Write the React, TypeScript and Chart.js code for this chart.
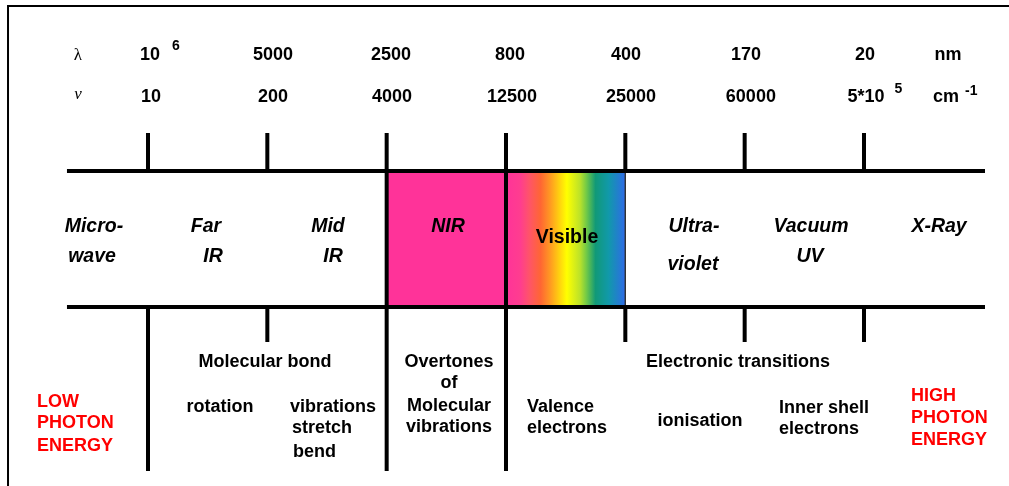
import React, { useEffect, useRef } from "react";
import { Chart, registerables } from "chart.js";

Chart.register(...registerables);

// ---------------- data ----------------
// tick boundaries along the spectrum (index units)
const BOUNDARIES = [0, 1, 2, 3, 4, 5, 6];
const WAVELENGTH_LABELS = ["10", "5000", "2500", "800", "400", "170", "20"];
const WAVELENGTH_EXP = ["6", "", "", "", "", "", ""];
const WAVENUMBER_LABELS = ["10", "200", "4000", "12500", "25000", "60000", "5*10"];
const WAVENUMBER_EXP = ["", "", "", "", "", "", "5"];
const UNIT_WAVELENGTH = "nm";
const UNIT_WAVENUMBER = "cm";
const UNIT_WAVENUMBER_EXP = "-1";
const REGION_NAMES = [
  ["Micro-", "wave"],
  ["Far", "IR"],
  ["Mid", "IR"],
  ["NIR"],
  ["Visible"],
  ["Ultra-", "violet"],
  ["Vacuum", "UV"],
  ["X-Ray"],
];
const NIR_RANGE = [2, 3];
const VISIBLE_RANGE = [3, 4];
const THROUGH_BAND = [2, 3]; // dividers crossing the band
const LONG_LOWER = [0, 2, 3]; // dividers reaching the bottom
const PROCESS_TEXT = [
  "Molecular bond",
  "rotation",
  "vibrations",
  "stretch",
  "bend",
  "Overtones",
  "of",
  "Molecular",
  "vibrations",
  "Electronic transitions",
  "Valence",
  "electrons",
  "ionisation",
  "Inner shell",
  "electrons",
];
const LOW_ENERGY = ["LOW", "PHOTON", "ENERGY"];
const HIGH_ENERGY = ["HIGH", "PHOTON", "ENERGY"];

// ---------------- layout ----------------
const W = 1009;
const H = 486;
const X_MIN = -1.2402;
const X_MAX = 7.2151;
const FRAME_X = -1.173;
const FRAME_Y = 6;
const AXIS_START = -0.679;
const AXIS_END = 7.014;
const TICK_TOP = 133;
const BAND_TOP = 171;
const BAND_BOTTOM = 307;
const SHORT_BOTTOM = 342;
const LONG_BOTTOM = 471;

const ROW1_X = [0.017, 1.047, 2.036, 3.034, 4.006, 5.011, 6.009];
const ROW2_X = [0.025, 1.047, 2.045, 3.05, 4.047, 5.052, 6.017];
const ROW1_Y = 60;
const ROW2_Y = 102;
const ROW1_EXP_Y = 50;
const ROW2_EXP_Y = 93;
const SYMBOL_X = -0.587;
const UNIT_X = [6.704, 6.687];

const REGION_X = [
  [-0.453, -0.469],
  [0.486, 0.545],
  [1.508, 1.55],
  [2.514],
  [3.511],
  [4.575, 4.567],
  [5.556, 5.547],
  [6.629],
];
const REGION_Y = [
  [232, 262],
  [232, 262],
  [232, 262],
  [232],
  [243],
  [232, 270],
  [232, 262],
  [232],
];

const PROCESS_LAYOUT = [
  { x: 0.98, y: 367, align: "center" },
  { x: 0.603, y: 412, align: "center" },
  { x: 1.19, y: 412, align: "left" },
  { x: 1.207, y: 433, align: "left" },
  { x: 1.215, y: 457, align: "left" },
  { x: 2.522, y: 367, align: "center" },
  { x: 2.522, y: 388, align: "center" },
  { x: 2.522, y: 411, align: "center" },
  { x: 2.522, y: 432, align: "center" },
  { x: 4.944, y: 367, align: "center" },
  { x: 3.176, y: 412, align: "left" },
  { x: 3.176, y: 433, align: "left" },
  { x: 4.626, y: 426, align: "center" },
  { x: 5.288, y: 413, align: "left" },
  { x: 5.288, y: 434, align: "left" },
];
const LOW_X = -0.93;
const LOW_Y = [407, 428, 451];
const HIGH_X = 6.394;
const HIGH_Y = [401, 423, 445];

const SANS = "'Liberation Sans', Arial, sans-serif";
const SERIF = "'Liberation Serif', 'Times New Roman', serif";
const NIR_COLOR = "#FF3399";
const VISIBLE_STOPS: [number, string][] = [
  [0, "#FF3399"],
  [0.12, "#FF3D8F"],
  [0.2, "#FF5566"],
  [0.29, "#FF6633"],
  [0.37, "#FF9922"],
  [0.51, "#FFFF00"],
  [0.62, "#BBE22A"],
  [0.67, "#77CC44"],
  [0.75, "#119977"],
  [0.86, "#1199AA"],
  [1, "#2F6BE8"],
];

function seg(x1: number, y1: number, x2: number, y2: number, width: number, color = "#000") {
  return {
    type: "line",
    data: [
      { x: x1, y: y1 },
      { x: x2, y: y2 },
    ],
    borderColor: color,
    borderWidth: width,
    pointRadius: 0,
    tension: 0,
    fill: false,
    borderCapStyle: "butt",
    order: 1,
    clip: false,
  };
}

function buildDatasets() {
  const ds: any[] = [];
  // frame
  ds.push({
    ...seg(FRAME_X, H, FRAME_X, FRAME_Y, 2),
    data: [
      { x: FRAME_X, y: H },
      { x: FRAME_X, y: FRAME_Y },
      { x: X_MAX, y: FRAME_Y },
    ],
    borderJoinStyle: "miter",
  });
  // main axis lines
  ds.push(seg(AXIS_START, BAND_TOP, AXIS_END, BAND_TOP, 4));
  ds.push(seg(AXIS_START, BAND_BOTTOM, AXIS_END, BAND_BOTTOM, 4));
  // dividers
  BOUNDARIES.forEach((b) => {
    const bottom = LONG_LOWER.includes(b) ? LONG_BOTTOM : SHORT_BOTTOM;
    if (THROUGH_BAND.includes(b)) {
      ds.push(seg(b, TICK_TOP, b, bottom, 4));
    } else {
      ds.push(seg(b, TICK_TOP, b, BAND_TOP, 4));
      ds.push(seg(b, BAND_BOTTOM, b, bottom, 4));
    }
  });
  // thin edge of visible box
  ds.push(seg(VISIBLE_RANGE[1], BAND_TOP, VISIBLE_RANGE[1], BAND_BOTTOM, 1, "#333"));
  // NIR box
  ds.push({
    type: "line",
    data: [
      { x: NIR_RANGE[0], y: BAND_TOP },
      { x: NIR_RANGE[1], y: BAND_TOP },
    ],
    borderWidth: 0,
    borderColor: "rgba(0,0,0,0)",
    pointRadius: 0,
    fill: { value: BAND_BOTTOM },
    backgroundColor: NIR_COLOR,
    order: 5,
    clip: false,
  });
  // Visible box
  ds.push({
    type: "line",
    data: [
      { x: VISIBLE_RANGE[0], y: BAND_TOP },
      { x: VISIBLE_RANGE[1], y: BAND_TOP },
    ],
    borderWidth: 0,
    borderColor: "rgba(0,0,0,0)",
    pointRadius: 0,
    fill: { value: BAND_BOTTOM },
    backgroundColor: (context: any) => {
      const chart = context.chart;
      if (!chart.chartArea) return NIR_COLOR;
      const xs = chart.scales.x;
      const g = chart.ctx.createLinearGradient(
        xs.getPixelForValue(VISIBLE_RANGE[0]),
        0,
        xs.getPixelForValue(VISIBLE_RANGE[1]),
        0
      );
      VISIBLE_STOPS.forEach(([o, c]) => g.addColorStop(o, c));
      return g;
    },
    order: 5,
    clip: false,
  });
  return ds;
}

const textPlugin = {
  id: "spectrumText",
  afterDatasetsDraw(chart: any) {
    const { ctx } = chart;
    const xs = chart.scales.x;
    const ys = chart.scales.y;
    const px = (v: number) => xs.getPixelForValue(v);
    const py = (v: number) => ys.getPixelForValue(v);
    const draw = (
      s: string,
      x: number,
      y: number,
      font: string,
      align: CanvasTextAlign = "center",
      color = "#000"
    ) => {
      ctx.save();
      ctx.font = font;
      ctx.fillStyle = color;
      ctx.textAlign = align;
      ctx.textBaseline = "alphabetic";
      ctx.fillText(s, px(x), py(y));
      ctx.restore();
    };
    const num = `bold 18px ${SANS}`;
    const sup = `bold 14px ${SANS}`;
    const supAfter = (main: string, x: number, y: number, expo: string, ey: number, gap: number) => {
      ctx.save();
      ctx.font = num;
      const w = ctx.measureText(main).width;
      ctx.restore();
      ctx.save();
      ctx.font = sup;
      ctx.fillStyle = "#000";
      ctx.textAlign = "left";
      ctx.textBaseline = "alphabetic";
      ctx.fillText(expo, px(x) + w / 2 + gap, py(ey));
      ctx.restore();
    };

    // symbols
    draw("λ", SYMBOL_X, ROW1_Y, `17px ${SERIF}`);
    draw("ν", SYMBOL_X, ROW2_Y - 3, `italic 17px ${SERIF}`);

    WAVELENGTH_LABELS.forEach((s, i) => {
      draw(s, ROW1_X[i], ROW1_Y, num);
      if (WAVELENGTH_EXP[i]) supAfter(s, ROW1_X[i], ROW1_Y, WAVELENGTH_EXP[i], ROW1_EXP_Y, 12);
    });
    WAVENUMBER_LABELS.forEach((s, i) => {
      draw(s, ROW2_X[i], ROW2_Y, num);
      if (WAVENUMBER_EXP[i]) supAfter(s, ROW2_X[i], ROW2_Y, WAVENUMBER_EXP[i], ROW2_EXP_Y, 10);
    });
    draw(UNIT_WAVELENGTH, UNIT_X[0], ROW1_Y, num);
    draw(UNIT_WAVENUMBER, UNIT_X[1], ROW2_Y, num);
    supAfter(UNIT_WAVENUMBER, UNIT_X[1], ROW2_Y, UNIT_WAVENUMBER_EXP, 95, 6);

    // region labels
    REGION_NAMES.forEach((lines, r) => {
      lines.forEach((s, k) => {
        const font = s === "Visible" ? `bold 19.5px ${SANS}` : `italic bold 19.5px ${SANS}`;
        draw(s, REGION_X[r][k], REGION_Y[r][k], font);
      });
    });

    // processes
    PROCESS_TEXT.forEach((s, i) => {
      const l = PROCESS_LAYOUT[i];
      draw(s, l.x, l.y, `bold 18px ${SANS}`, l.align as CanvasTextAlign);
    });
    LOW_ENERGY.forEach((s, i) => draw(s, LOW_X, LOW_Y[i], `bold 18px ${SANS}`, "left", "#FF0000"));
    HIGH_ENERGY.forEach((s, i) => draw(s, HIGH_X, HIGH_Y[i], `bold 18px ${SANS}`, "left", "#FF0000"));
  },
};

export default function App() {
  const ref = useRef<HTMLCanvasElement | null>(null);
  useEffect(() => {
    if (!ref.current) return;
    const chart = new Chart(ref.current, {
      type: "line",
      data: { datasets: buildDatasets() as any },
      options: {
        responsive: false,
        animation: false,
        events: [],
        layout: { padding: 0, autoPadding: false } as any,
        plugins: {
          legend: { display: false },
          tooltip: { enabled: false },
          title: { display: false },
        },
        scales: {
          x: { type: "linear", min: X_MIN, max: X_MAX, display: false },
          y: { type: "linear", min: 0, max: H, reverse: true, display: false },
        },
      },
      plugins: [textPlugin],
    });
    return () => chart.destroy();
  }, []);
  return (
    <div style={{ position: "fixed", left: 0, top: 0, width: W, height: H, background: "#fff" }}>
      <canvas ref={ref} width={W} height={H} style={{ display: "block" }} />
    </div>
  );
}
